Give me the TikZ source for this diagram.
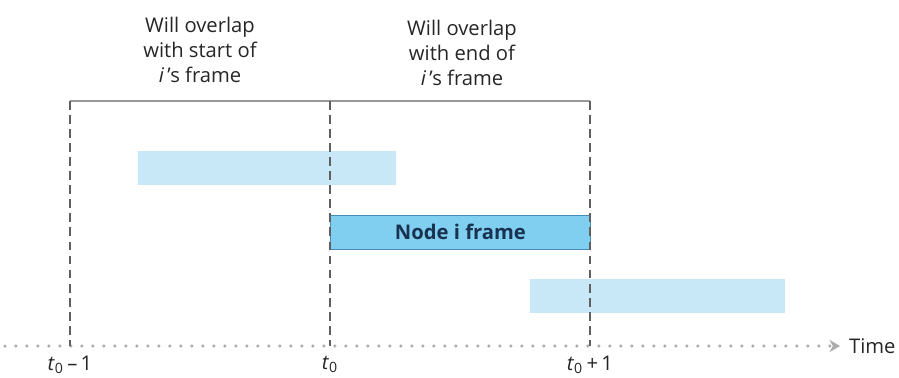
\documentclass[tikz,border=0pt]{standalone}
\usepackage{fontspec}
\setmainfont{Open Sans}
\definecolor{frameBlue}{RGB}{128,206,240}
\definecolor{frameEdge}{RGB}{70,140,180}
\definecolor{otherBlue}{RGB}{200,232,248}
\definecolor{labelNavy}{RGB}{25,50,80}
\definecolor{guideGray}{RGB}{95,95,95}
\usetikzlibrary{arrows.meta,positioning}

\begin{document}
\begin{tikzpicture}[x=0.02cm, y=-0.02cm,
    txt/.style={font=\fontsize{11.5}{14.2}\selectfont, align=center, text=black!85},
    bar/.style={minimum width=5.2cm, minimum height=0.68cm, inner sep=0pt, anchor=west},
    guide/.style={draw=guideGray, line width=0.6pt, dash pattern=on 5pt off 3pt}]
    \useasboundingbox (0,0) rectangle (899,378);

    % tick positions on the time axis and on the bracket
    \coordinate (ax0) at (5,346);
    \coordinate (ax1) at (840,346);
    \coordinate (tm) at (70,346);
    \coordinate (tz) at (330,346);
    \coordinate (tp) at (590,346);
    \coordinate (bm) at (70,101);
    \coordinate (bz) at (330,101);
    \coordinate (bp) at (590,101);

    % frames
    \node[bar, fill=otherBlue, minimum width=5.16cm] (early) at (138,168) {};
    \node[bar, fill=frameBlue, draw=frameEdge, line width=0.5pt, text=labelNavy,
          font=\fontsize{11.5}{12}\selectfont\bfseries] (own) at (330,232) {Node i frame};
    \node[bar, fill=otherBlue, minimum width=5.1cm] (late) at (530,296) {};

    % time axis
    \draw[gray!65, line width=0.07cm, line cap=round, dash pattern=on 0pt off 0.22cm,
          -{Stealth[length=6pt, width=7pt]}] (ax0) -- (ax1);
    \node[txt, right=4pt of ax1, inner sep=1pt] (time) {Time};

    % bracket and guides
    \draw[gray!80, line width=0.6pt] (bm) -- (bp);
    \draw[guide] (bm) -- (tm);
    \draw[guide] (bz) -- (tz);
    \draw[guide] (bp) -- (tp);

    \node[txt, below=2pt of tm] (lm) {\textit{t}\textsubscript{0}\,–\,1};
    \node[txt, below=2pt of tz] (lz) {\textit{t}\textsubscript{0}};
    \node[txt, below=2pt of tp] (lp) {\textit{t}\textsubscript{0}\,+\,1};

    \node[txt] (startlbl) at (200,50) {Will overlap\\with start of\\\textit{i}\,’s frame};
    \node[txt] (endlbl) at (462,53) {Will overlap\\with end of\\\textit{i}\,’s frame};
\end{tikzpicture}
\end{document}
